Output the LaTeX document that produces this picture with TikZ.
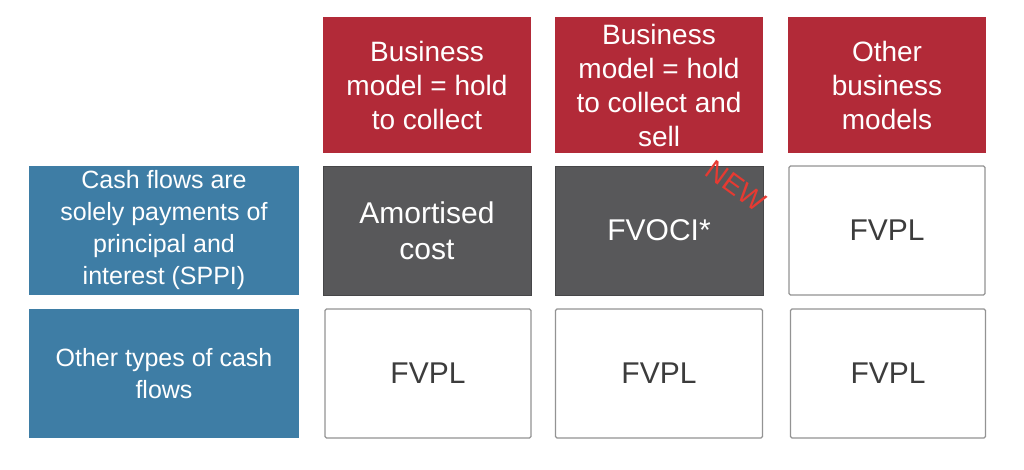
\documentclass[tikz,border=0pt]{standalone}
\usepackage{fontspec}
\setmainfont{Liberation Sans}
\usetikzlibrary{positioning}
\definecolor{hdrred}{HTML}{B22A38}
\definecolor{rowblue}{HTML}{3E7DA5}
\definecolor{cellgray}{HTML}{58585A}
\definecolor{newred}{HTML}{E63A32}
\definecolor{txtgray}{HTML}{3C3C3C}
\tikzset{
  hdr/.style={fill=hdrred, text=white, inner sep=0pt, minimum width=#1, minimum height=136pt,
    align=center, font=\fontsize{28}{34}\selectfont},
  rowhdr/.style={fill=rowblue, text=white, inner sep=0pt, minimum width=270pt, minimum height=129pt,
    align=center, font=\fontsize{25}{32}\selectfont},
  darkcell/.style={fill=cellgray, draw=cellgray!80!black, text=white, inner sep=0pt, minimum width=#1,
    minimum height=129pt, align=center, font=\fontsize{30}{36}\selectfont},
  lightcell/.style={fill=white, draw=gray!85, line width=1.2pt, rounded corners=1.5pt, text=txtgray,
    inner sep=0pt, minimum width=#1, minimum height=129pt, align=center, font=\fontsize{30}{36}\selectfont}
}
\begin{document}
\begin{tikzpicture}[x=1pt,y=-1pt]
\useasboundingbox (0,0) rectangle (1024,469);
% column headers
\node[hdr=208pt] (hold) at (427,85) {Business\\model = hold\\to collect};
\node[hdr=208pt] (holdsell) at (659,85) {Business\\model = hold\\to collect and\\sell};
\node[hdr=198pt] (other) at (887,85) {Other\\business\\models};
% row headers
\node[rowhdr] (sppi) at (164,230.5) {Cash flows are\\solely payments of\\principal and\\interest (SPPI)};
\node[rowhdr] (nonsppi) at (164,373.5) {Other types of cash\\flows};
% first row
\node[darkcell=208pt] (amort) at (427,230.5) {Amortised\\cost};
\node[darkcell=208pt] (fvoci) at (659,230.5) {FVOCI*};
\node[lightcell=196pt] (fvplA) at (887,230.5) {FVPL};
% second row
\node[lightcell=206pt] (fvplB) at (428,373.5) {FVPL};
\node[lightcell=207pt] (fvplC) at (659,373.5) {FVPL};
\node[lightcell=195pt] (fvplD) at (888,373.5) {FVPL};
\node[text=newred, rotate=-36, inner sep=0pt, font=\fontsize{28}{28}\selectfont] (new) at (736,186) {NEW};
\end{tikzpicture}
\end{document}
